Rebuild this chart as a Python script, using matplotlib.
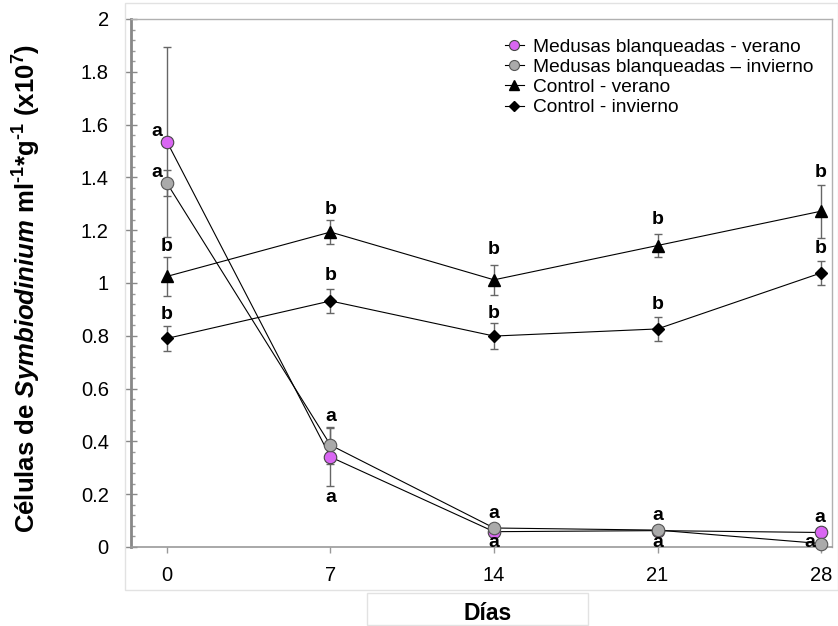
import matplotlib
matplotlib.use("Agg")
import matplotlib.pyplot as plt
from matplotlib.patches import Rectangle
from matplotlib.ticker import MultipleLocator, FormatStrFormatter

plt.rcParams['font.family'] = ['Liberation Sans', 'DejaVu Sans']
plt.rcParams['mathtext.fontset'] = 'custom'
plt.rcParams['mathtext.rm'] = 'Liberation Sans:bold'
plt.rcParams['mathtext.it'] = 'Liberation Sans:bold:italic'
plt.rcParams['mathtext.bf'] = 'Liberation Sans:bold'

# ---- data ----
days = [0, 7, 14, 21, 28]
med_verano = [1.535, 0.341, 0.058, 0.062, 0.055]
med_verano_err = [0.36, 0.11, 0.0, 0.0, 0.0]
med_invierno = [1.378, 0.386, 0.072, 0.064, 0.013]
med_invierno_err = [0.05, 0.07, 0.0, 0.0, 0.0]
ctrl_verano = [1.025, 1.193, 1.012, 1.142, 1.272]
ctrl_verano_err = [0.075, 0.045, 0.058, 0.045, 0.100]
ctrl_invierno = [0.790, 0.932, 0.799, 0.826, 1.038]
ctrl_invierno_err = [0.046, 0.047, 0.048, 0.047, 0.047]

labels = ["Medusas blanqueadas - verano", "Medusas blanqueadas \u2013 invierno",
          "Control - verano", "Control - invierno"]

# significance letters: (day, y, text, x-offset in days)
letters = [
    (0, 1.575, "a", -0.45), (0, 1.418, "a", -0.45), (0, 1.140, "b", 0), (0, 0.879, "b", 0),
    (7, 1.277, "b", 0), (7, 1.027, "b", 0), (7, 0.496, "a", 0), (7, 0.188, "a", 0),
    (14, 1.125, "b", 0), (14, 0.883, "b", 0), (14, 0.125, "a", 0), (14, 0.016, "a", 0),
    (21, 1.239, "b", 0), (21, 0.920, "b", 0), (21, 0.121, "a", 0), (21, 0.018, "a", 0),
    (28, 1.417, "b", 0), (28, 1.129, "b", 0), (28, 0.110, "a", -0.05), (28, 0.018, "a", -0.5),
]

fig = plt.figure(figsize=(8.38, 6.26), dpi=100)
W, H = 838, 626
ax = fig.add_axes([131 / W, 1 - 547 / H, (832 - 131) / W, (547 - 19) / H])

# outer light frame of plot area and x-label box
fig.patches.append(Rectangle((125 / W, 1 - 590 / H), (838 - 125) / W, (590 - 3) / H,
                             transform=fig.transFigure, fill=False, edgecolor='#e2e2e2', lw=1.0))
fig.patches.append(Rectangle((367 / W, 1 - 625 / H), (588 - 367) / W, (625 - 593) / H,
                             transform=fig.transFigure, fill=False, edgecolor='#e2e2e2', lw=1.0))

eb_kw = dict(ecolor='#666666', elinewidth=1.0, capsize=3, capthick=1.0, clip_on=False)
line_kw = dict(color='black', lw=0.8, clip_on=False)

ax.errorbar(days, ctrl_verano, yerr=ctrl_verano_err, fmt='none', zorder=2, **eb_kw)
ax.errorbar(days, ctrl_invierno, yerr=ctrl_invierno_err, fmt='none', zorder=2, **eb_kw)
ax.errorbar(days, med_invierno, yerr=med_invierno_err, fmt='none', zorder=2, **eb_kw)
ax.errorbar(days, med_verano, yerr=med_verano_err, fmt='none', zorder=2, **eb_kw)

ax.plot(days, med_verano, marker='o', ms=9, mfc='#d966f2', mec='#444444', mew=0.8,
        label=labels[0], zorder=4, **line_kw)
ax.plot(days, med_invierno, marker='o', ms=9, mfc='#aaaaaa', mec='#555555', mew=0.8,
        label=labels[1], zorder=5, **line_kw)
ax.plot(days, ctrl_verano, marker='^', ms=9, mfc='black', mec='black',
        label=labels[2], zorder=4, **line_kw)
ax.plot(days, ctrl_invierno, marker='D', ms=6.5, mfc='black', mec='black',
        label=labels[3], zorder=4, **line_kw)

for d, y, t, dx in letters:
    ax.text(d + dx, y, t, ha='center', va='center', fontsize=14, fontweight='bold',
            zorder=6, clip_on=False)

ax.set_xlim(-1.54, 28.47)
ax.set_ylim(0, 2)
ax.set_xticks(days)
ax.yaxis.set_major_locator(MultipleLocator(0.2))
ax.yaxis.set_minor_locator(MultipleLocator(0.04))
ax.yaxis.set_major_formatter(FormatStrFormatter('%g'))

ax.tick_params(axis='y', which='major', direction='inout', length=8, width=1,
               color='#888888', labelsize=14.5, pad=12)
ax.tick_params(axis='y', which='minor', direction='in', length=3, width=1, color='#999999')
ax.tick_params(axis='x', which='major', direction='out', length=4, width=1,
               color='#999999', labelsize=14.5, pad=10)

for s in ['top', 'right']:
    ax.spines[s].set_color('#b0b0b0')
    ax.spines[s].set_linewidth(1.0)
ax.spines['bottom'].set_color('#999999')
ax.spines['bottom'].set_linewidth(1.2)
ax.spines['left'].set_color('#888888')
ax.spines['left'].set_linewidth(2.0)

fig.text(27 / W, 1 - 288 / H,
         r"Células de $\mathit{Symbiodinium}$ ml$^{\text{-}1}$*g$^{\text{-}1}$ (x10$^{7}$)",
         rotation=90, ha='center', va='center', fontsize=18.5, fontweight='bold')
fig.text(488 / W, 1 - 613 / H, "Días", ha='center', va='center', fontsize=16.5, fontweight='bold')

leg = ax.legend(loc='upper left', bbox_to_anchor=((495 - 131) / (832 - 131), 1 - (29 - 19) / 528),
                frameon=False, fontsize=13.8, handlelength=1.0, handletextpad=0.5,
                labelspacing=0.14, borderpad=0, markerscale=0.8)

fig.savefig("out.png", dpi=100)
